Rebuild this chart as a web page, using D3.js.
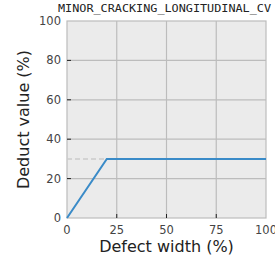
<!DOCTYPE html>
<html><head><meta charset="utf-8">
<script src="https://cdn.jsdelivr.net/npm/d3@7"></script>
<style>body{margin:0;background:#fff}svg{display:block}</style>
</head><body>
<svg id="c" width="275" height="262"></svg>
<script>
const title = "MINOR_CRACKING_LONGITUDINAL_CV";
const xTicks = [0, 25, 50, 75, 100];
const yTicks = [0, 20, 40, 60, 80, 100];
const curveX = [0, 20, 100];
const curveY = [0, 30, 30];
const refX = [0, 20];
const refY = [30, 30];

const svg = d3.select("#c");
const L = 67, R = 266, T = 21, B = 218;
const x = d3.scaleLinear().domain([0, 100]).range([L, R]);
const y = d3.scaleLinear().domain([0, 100]).range([B, T]);

svg.append("rect").attr("x", L).attr("y", T).attr("width", R - L).attr("height", B - T).attr("fill", "#ebebeb");
const g = svg.append("g");
g.selectAll(".gx").data(xTicks.slice(1, -1)).join("line")
  .attr("x1", d => x(d)).attr("x2", d => x(d)).attr("y1", T).attr("y2", B)
  .attr("stroke", "#bcbcbc").attr("stroke-width", 1.2);
g.selectAll(".gy").data(yTicks.slice(1, -1)).join("line")
  .attr("y1", d => y(d)).attr("y2", d => y(d)).attr("x1", L).attr("x2", R)
  .attr("stroke", "#bcbcbc").attr("stroke-width", 1.2);
svg.append("rect").attr("x", L).attr("y", T).attr("width", R - L).attr("height", B - T)
  .attr("fill", "none").attr("stroke", "#bcbcbc").attr("stroke-width", 1.2);

svg.selectAll(".tx").data(xTicks.slice(1, -1)).join("line")
  .attr("x1", d => x(d)).attr("x2", d => x(d)).attr("y1", B).attr("y2", B - 4)
  .attr("stroke", "#222").attr("stroke-width", 1);
svg.selectAll(".ty").data(yTicks.slice(1, -1)).join("line")
  .attr("y1", d => y(d)).attr("y2", d => y(d)).attr("x1", L).attr("x2", L + 4)
  .attr("stroke", "#222").attr("stroke-width", 1);

const font = "DejaVu Sans, sans-serif";
svg.selectAll(".lx").data(xTicks).join("text")
  .attr("x", d => x(d)).attr("y", B + 16).attr("text-anchor", "middle")
  .attr("font-family", font).attr("font-size", 11.5).attr("fill", "#444").text(d => d);
svg.selectAll(".ly").data(yTicks).join("text")
  .attr("x", L - 6).attr("y", d => y(d) + 4).attr("text-anchor", "end")
  .attr("font-family", font).attr("font-size", 11.5).attr("fill", "#444").text(d => d);

const line = d3.line().x(d => x(d[0])).y(d => y(d[1]));
svg.append("path").datum(refX.map((v, i) => [v, refY[i]])).attr("d", line)
  .attr("fill", "none").attr("stroke", "#cccccc").attr("stroke-width", 1.5).attr("stroke-dasharray", "5,3");
svg.append("path").datum(curveX.map((v, i) => [v, curveY[i]])).attr("d", line)
  .attr("fill", "none").attr("stroke", "#3a8bc8").attr("stroke-width", 2);

svg.append("text").attr("x", (L + R) / 2).attr("y", 252).attr("text-anchor", "middle")
  .attr("font-family", font).attr("font-size", 16).attr("fill", "#222").text("Defect width (%)");
svg.append("text").attr("transform", `translate(29,${(T + B) / 2}) rotate(-90)`).attr("text-anchor", "middle")
  .attr("font-family", font).attr("font-size", 16).attr("fill", "#222").text("Deduct value (%)");
svg.append("text").attr("x", 58).attr("y", 12).attr("textLength", 213).attr("lengthAdjust", "spacingAndGlyphs")
  .attr("font-family", "DejaVu Sans Mono, monospace").attr("font-size", 10).attr("fill", "#222").text(title);
</script>
</body></html>
